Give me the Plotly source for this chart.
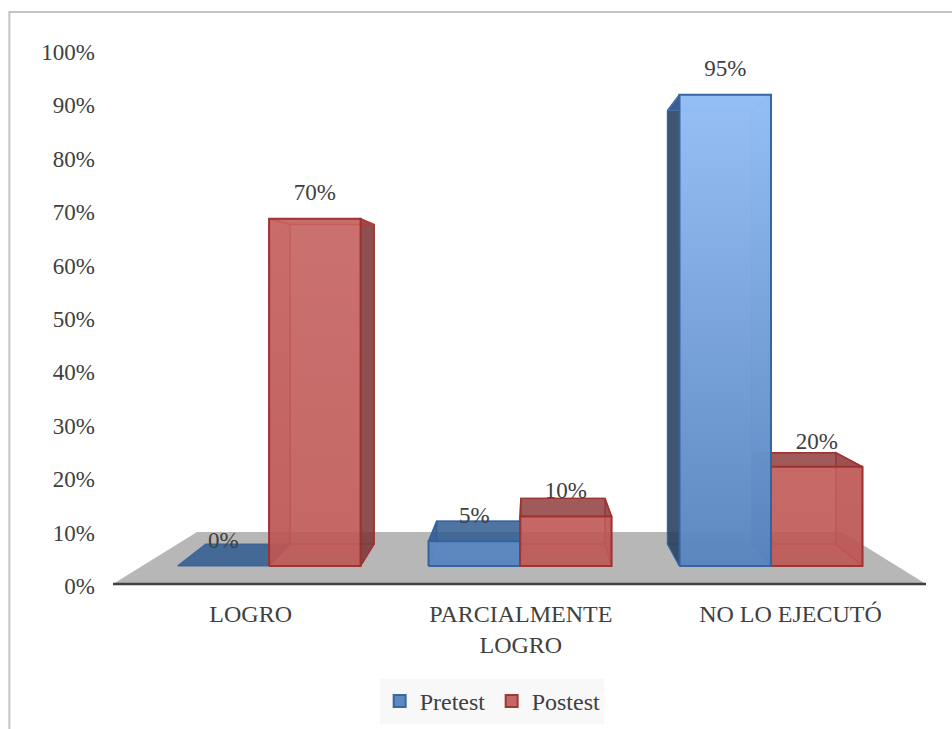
import plotly.graph_objects as go

# --- data ---
categories = ["LOGRO", "PARCIALMENTE<br>LOGRO", "NO LO EJECUTÓ"]
category_ticks = [0.008, 1.005, 2.0]
pretest = [0, 5, 95]
postest = [70, 10, 20]
y_ticks = list(range(0, 101, 10))
series_names = ["Pretest", "Postest"]

# --- 3D projection parameters (axis units) ---
BAR_W = 0.3376
CAT_STEP = 0.926
CAT_CENTER = 1.002
BASE_Y = 3.745
Y_SCALE = 0.929
VX, VY = 1.039, 55.24
DEPTH = 0.92
FLOOR_FRONT_Y, FLOOR_BACK_Y = 0.375, 10.11
FLOOR_FRONT_X = (-0.5, 2.5)
FLOOR_BACK_X = (-0.19, 2.19)
FONT = "Liberation Serif"
TXT = "#404040"

STYLE = {
    "Pretest": dict(line="rgba(52,98,155,0.95)", inner="rgba(70,120,190,0.8)",
                    top="rgba(48,92,145,0.85)", side="rgba(38,62,92,0.88)",
                    inner_side="rgba(60,105,170,0.45)",
                    grad=[[0, "rgba(88,132,190,0.97)"], [1, "rgba(147,190,245,0.97)"]]),
    "Postest": dict(line="rgba(155,50,48,0.95)", inner="rgba(185,60,58,0.8)",
                    top="rgba(140,55,55,0.82)", side="rgba(125,55,55,0.88)",
                    inner_side="rgba(170,70,70,0.30)",
                    grad=[[0, "rgba(190,86,84,0.90)"], [1, "rgba(200,102,100,0.90)"]]),
}


def project(x, v, back):
    """Front/back projection of a bar corner into axis units."""
    y = BASE_Y + v * Y_SCALE
    if back:
        return VX + (x - VX) * DEPTH, VY + (y - VY) * DEPTH
    return x, y


def face(points, fill, line, width=1.6, gradient=None):
    xs = [p[0] for p in points] + [points[0][0]]
    ys = [p[1] for p in points] + [points[0][1]]
    kw = dict(fillgradient=gradient) if gradient else dict(fillcolor=fill)
    return go.Scatter(x=xs, y=ys, mode="lines", fill="toself",
                      line=dict(color=line, width=width),
                      hoverinfo="skip", showlegend=False, **kw)


def bar_traces(x0, x1, v, name):
    st = STYLE[name]
    f = lambda x, val: project(x, val, False)
    b = lambda x, val: project(x, val, True)
    out = []
    out.append(face([f(x0, 0), f(x1, 0), b(x1, 0), b(x0, 0)], st["top"] if v == 0 else "rgba(0,0,0,0.02)",
                    st["inner"] if v else st["line"], 1.2))
    if v == 0:
        return out
    out.append(face([b(x0, 0), b(x1, 0), b(x1, v), b(x0, v)], "rgba(0,0,0,0.02)", st["inner"], 1.2))
    left_near = x0 > VX    # left side is seen outside the front face
    right_near = x1 < VX   # right side is seen outside the front face
    out.append(face([f(x0, 0), b(x0, 0), b(x0, v), f(x0, v)],
                    st["side"] if left_near else st["inner_side"],
                    st["line"] if left_near else st["inner"], 1.4))
    out.append(face([f(x1, 0), b(x1, 0), b(x1, v), f(x1, v)],
                    st["side"] if right_near else st["inner_side"],
                    st["line"] if right_near else st["inner"], 1.4))
    top_val = BASE_Y + v * Y_SCALE
    out.append(face([f(x0, v), f(x1, v), b(x1, v), b(x0, v)],
                    st["top"] if top_val < VY else st["inner_side"],
                    st["line"] if top_val < VY else st["inner"], 1.4))
    grad = dict(type="vertical", colorscale=st["grad"], start=BASE_Y, stop=BASE_Y + 95 * Y_SCALE)
    out.append(face([f(x0, 0), f(x1, 0), f(x1, v), f(x0, v)], None, st["line"], 2, gradient=grad))
    return out


fig = go.Figure()

# floor
fig.add_trace(go.Scatter(
    x=[FLOOR_FRONT_X[0], FLOOR_FRONT_X[1], FLOOR_BACK_X[1], FLOOR_BACK_X[0], FLOOR_FRONT_X[0]],
    y=[FLOOR_FRONT_Y, FLOOR_FRONT_Y, FLOOR_BACK_Y, FLOOR_BACK_Y, FLOOR_FRONT_Y],
    mode="lines", fill="toself", fillcolor="#b7b7b7", line=dict(width=0),
    hoverinfo="skip", showlegend=False))

# bars, painted from the outside towards the vanishing point
order = [(0, "Pretest"), (0, "Postest"), (1, "Pretest"), (1, "Postest"), (2, "Postest"), (2, "Pretest")]
for i, name in order:
    centre = CAT_CENTER + (i - 1) * CAT_STEP
    if name == "Pretest":
        x0, x1, v = centre - BAR_W, centre, pretest[i]
    else:
        x0, x1, v = centre, centre + BAR_W, postest[i]
    fig.add_traces(bar_traces(x0, x1, v, name))

# axis line
fig.add_trace(go.Scatter(x=list(FLOOR_FRONT_X), y=[FLOOR_FRONT_Y, FLOOR_FRONT_Y], mode="lines",
                         line=dict(color="#404040", width=2.5), hoverinfo="skip", showlegend=False))

# data labels
for name, vals, sign in (("Pretest", pretest, -1), ("Postest", postest, 1)):
    xs = [CAT_CENTER + (i - 1) * CAT_STEP + sign * BAR_W / 2 for i in range(3)]
    ys = [BASE_Y + v * Y_SCALE + 4.5 for v in vals]
    fig.add_trace(go.Scatter(x=xs, y=ys, mode="text", text=[f"{v}%" for v in vals],
                             textfont=dict(family=FONT, size=23, color=TXT),
                             textposition="middle center", cliponaxis=False,
                             hoverinfo="skip", showlegend=False))

# legend keys
for name in series_names:
    st = STYLE[name]
    fig.add_trace(go.Scatter(x=[None], y=[None], mode="markers", name=name,
                             marker=dict(symbol="square", size=12,
                                         color=st["grad"][0][1], line=dict(color=st["line"], width=2))))

fig.update_layout(
    width=952, height=729,
    margin=dict(l=113, r=26, t=52, b=143, autoexpand=False),
    paper_bgcolor="white", plot_bgcolor="white",
    font=dict(family=FONT, size=23, color=TXT),
    xaxis=dict(range=[-0.5, 2.5], tickmode="array", tickvals=category_ticks, ticktext=categories,
               showgrid=False, zeroline=False, showline=False, ticks="", ticklabelstandoff=11,
               automargin=False,
               tickfont=dict(family=FONT, size=24, color=TXT), fixedrange=True),
    yaxis=dict(range=[0, 100], tickmode="array", tickvals=y_ticks, ticktext=[f"{t}%" for t in y_ticks],
               showgrid=False, zeroline=False, showline=False, ticks="", ticklabelstandoff=17,
               automargin=False,
               tickfont=dict(family=FONT, size=23, color=TXT), fixedrange=True),
    legend=dict(orientation="h", x=0.328, y=-0.174, xanchor="left", yanchor="top",
                bgcolor="#f8f8f8", font=dict(family=FONT, size=24, color=TXT),
                itemwidth=30, itemclick=False, itemdoubleclick=False,
                entrywidth=67, entrywidthmode="pixels"),
    shapes=[dict(type="rect", xref="paper", yref="paper",
                 x0=-0.1275, x1=1.1, y0=-0.3, y1=1.0749,
                 line=dict(color="#c4c4c4", width=2), fillcolor="rgba(0,0,0,0)", layer="below")],
)

fig.write_html("out.html", post_script="document.body.style.margin='0';",
               config=dict(displayModeBar=False))
